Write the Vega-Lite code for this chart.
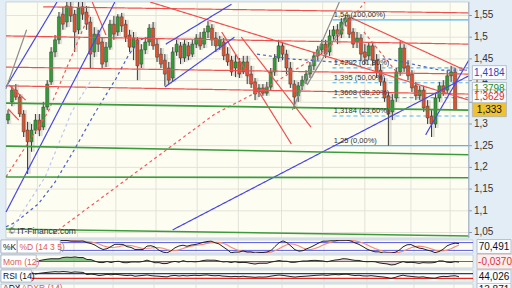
{
"$schema": "https://vega.github.io/schema/vega-lite/v6.json",
"padding": 0,
"background": "#e3edf6",
"spacing": 2,
"bounds": "flush",
"config": {"view": {"stroke": null, "fill": "#e3edf6"}, "font": "Liberation Sans"},
"datasets": {
"candles": [
{"t":0.5,"o":1.309,"h":1.332,"l":1.300,"c":1.323},
{"t":1.5,"o":1.351,"h":1.388,"l":1.341,"c":1.378},
{"t":2.5,"o":1.378,"h":1.392,"l":1.355,"c":1.362},
{"t":3.5,"o":1.362,"h":1.369,"l":1.316,"c":1.323},
{"t":4.5,"o":1.323,"h":1.332,"l":1.270,"c":1.282},
{"t":5.5,"o":1.286,"h":1.305,"l":1.185,"c":1.259},
{"t":6.5,"o":1.259,"h":1.300,"l":1.236,"c":1.286},
{"t":7.5,"o":1.286,"h":1.323,"l":1.277,"c":1.309},
{"t":8.5,"o":1.309,"h":1.323,"l":1.272,"c":1.286,"r":66},
{"t":9.5,"o":1.293,"h":1.351,"l":1.286,"c":1.339,"m":0.05,"r":72},
{"t":10.5,"o":1.339,"h":1.401,"l":1.332,"c":1.392,"m":0.1,"r":76,"a":30},
{"t":11.5,"o":1.397,"h":1.477,"l":1.390,"c":1.466,"m":0.14,"r":80},
{"t":12.5,"o":1.466,"h":1.505,"l":1.454,"c":1.494,"m":0.17,"r":83,"a":35},
{"t":13.5,"o":1.494,"h":1.558,"l":1.484,"c":1.547,"m":0.168,"r":86},
{"t":14.5,"o":1.553,"h":1.570,"l":1.517,"c":1.530,"k":95,"d":94,"m":0.168,"r":84,"a":40},
{"t":15.5,"o":1.535,"h":1.581,"l":1.523,"c":1.572,"k":97,"d":95,"m":0.249,"r":87},
{"t":16.5,"o":1.570,"h":1.581,"l":1.535,"c":1.549,"k":96,"d":95,"m":0.267,"r":85,"a":43,"ar":32},
{"t":17.5,"o":1.553,"h":1.563,"l":1.466,"c":1.512,"k":91,"d":94,"m":0.253,"r":80},
{"t":18.5,"o":1.517,"h":1.581,"l":1.507,"c":1.567,"k":91,"d":93,"m":0.281,"r":84,"a":45,"ar":36},
{"t":19.5,"o":1.570,"h":1.581,"l":1.540,"c":1.553,"k":91,"d":92,"m":0.244,"r":82},
{"t":20.5,"o":1.558,"h":1.572,"l":1.517,"c":1.530,"k":92,"d":92,"m":0.244,"r":80,"a":43,"ar":39},
{"t":21.5,"o":1.535,"h":1.547,"l":1.427,"c":1.461,"k":80,"d":89,"m":0.122,"r":62},
{"t":22.5,"o":1.466,"h":1.523,"l":1.454,"c":1.507,"k":73,"d":85,"m":0.115,"r":66,"a":39,"ar":41},
{"t":23.5,"o":1.507,"h":1.517,"l":1.466,"c":1.484,"k":61,"d":79,"m":0.018,"r":62},
{"t":24.5,"o":1.489,"h":1.500,"l":1.429,"c":1.438,"k":41,"d":69,"m":-0.055,"r":54,"a":35,"ar":40},
{"t":25.5,"o":1.443,"h":1.489,"l":1.431,"c":1.477,"k":27,"d":56,"m":-0.069,"r":58},
{"t":26.5,"o":1.477,"h":1.540,"l":1.471,"c":1.530,"k":33,"d":47,"m":0,"r":64,"a":31,"ar":37},
{"t":27.5,"o":1.530,"h":1.549,"l":1.494,"c":1.507,"k":50,"d":42,"m":-0.065,"r":60},
{"t":28.5,"o":1.512,"h":1.553,"l":1.503,"c":1.547,"k":67,"d":44,"m":-0.002,"r":64,"a":28,"ar":33},
{"t":29.5,"o":1.547,"h":1.556,"l":1.512,"c":1.526,"k":67,"d":49,"m":0.014,"r":61},
{"t":30.5,"o":1.530,"h":1.540,"l":1.489,"c":1.500,"k":66,"d":57,"m":-0.067,"r":57,"a":26,"ar":29},
{"t":31.5,"o":1.505,"h":1.517,"l":1.466,"c":1.477,"k":49,"d":60,"m":-0.076,"r":54},
{"t":32.5,"o":1.477,"h":1.512,"l":1.447,"c":1.498,"k":43,"d":58,"m":-0.032,"r":57,"a":25,"ar":27},
{"t":33.5,"o":1.494,"h":1.500,"l":1.401,"c":1.434,"k":27,"d":50,"m":-0.028,"r":48},
{"t":34.5,"o":1.438,"h":1.484,"l":1.429,"c":1.471,"k":28,"d":43,"m":-0.037,"r":52,"a":24,"ar":25},
{"t":35.5,"o":1.471,"h":1.500,"l":1.461,"c":1.489,"k":27,"d":35,"m":0.005,"r":55},
{"t":36.5,"o":1.489,"h":1.530,"l":1.480,"c":1.521,"k":53,"d":36,"m":0.083,"r":59,"a":24,"ar":24},
{"t":37.5,"o":1.521,"h":1.535,"l":1.471,"c":1.480,"k":56,"d":38,"m":0.002,"r":53},
{"t":38.5,"o":1.484,"h":1.498,"l":1.443,"c":1.454,"k":46,"d":42,"m":-0.076,"r":50,"a":23,"ar":24},
{"t":39.5,"o":1.461,"h":1.475,"l":1.429,"c":1.438,"k":21,"d":41,"m":-0.069,"r":48},
{"t":40.5,"o":1.447,"h":1.461,"l":1.388,"c":1.415,"k":7,"d":37,"m":-0.131,"r":45,"a":25,"ar":24},
{"t":41.5,"o":1.429,"h":1.443,"l":1.392,"c":1.401,"k":1,"d":26,"m":-0.124,"r":43},
{"t":42.5,"o":1.406,"h":1.477,"l":1.397,"c":1.466,"k":17,"d":18,"m":-0.035,"r":52,"a":26,"ar":24},
{"t":43.5,"o":1.466,"h":1.494,"l":1.457,"c":1.484,"k":40,"d":17,"m":0.007,"r":55},
{"t":44.5,"o":1.480,"h":1.489,"l":1.438,"c":1.452,"k":54,"d":24,"m":-0.046,"r":50,"a":24,"ar":24},
{"t":45.5,"o":1.452,"h":1.494,"l":1.443,"c":1.484,"k":60,"d":34,"m":0.051,"r":54},
{"t":46.5,"o":1.480,"h":1.489,"l":1.447,"c":1.457,"k":52,"d":45,"m":-0.014,"r":51,"a":22,"ar":24},
{"t":47.5,"o":1.461,"h":1.494,"l":1.454,"c":1.484,"k":61,"d":53,"m":-0.005,"r":54},
{"t":48.5,"o":1.484,"h":1.507,"l":1.475,"c":1.498,"k":65,"d":58,"m":-0.023,"r":56,"a":21,"ar":23},
{"t":49.5,"o":1.498,"h":1.512,"l":1.471,"c":1.480,"k":72,"d":62,"m":0,"r":53},
{"t":50.5,"o":1.484,"h":1.521,"l":1.475,"c":1.512,"k":82,"d":66,"m":0.058,"r":57,"a":22,"ar":22},
{"t":51.5,"o":1.512,"h":1.537,"l":1.498,"c":1.526,"k":88,"d":74,"m":0.088,"r":59},
{"t":52.5,"o":1.521,"h":1.530,"l":1.480,"c":1.494,"k":91,"d":80,"m":0.078,"r":54,"a":23,"ar":22},
{"t":53.5,"o":1.498,"h":1.512,"l":1.466,"c":1.480,"k":79,"d":82,"m":0.078,"r":52},
{"t":54.5,"o":1.480,"h":1.503,"l":1.471,"c":1.494,"k":70,"d":82,"m":0.028,"r":54,"a":22,"ar":22},
{"t":55.5,"o":1.489,"h":1.498,"l":1.447,"c":1.457,"k":48,"d":75,"m":-0.028,"r":49},
{"t":56.5,"o":1.461,"h":1.477,"l":1.434,"c":1.443,"k":27,"d":63,"m":-0.009,"r":47,"a":24,"ar":22},
{"t":57.5,"o":1.447,"h":1.457,"l":1.411,"c":1.420,"k":2,"d":45,"m":-0.065,"r":44},
{"t":58.5,"o":1.429,"h":1.461,"l":1.408,"c":1.443,"k":7,"d":31,"m":-0.014,"r":47,"a":28,"ar":23},
{"t":59.5,"o":1.443,"h":1.452,"l":1.406,"c":1.415,"k":7,"d":18,"m":-0.069,"r":44},
{"t":60.5,"o":1.420,"h":1.457,"l":1.415,"c":1.443,"k":16,"d":12,"m":-0.055,"r":48,"a":33,"ar":25},
{"t":61.5,"o":1.443,"h":1.457,"l":1.392,"c":1.411,"k":8,"d":8,"m":-0.069,"r":44},
{"t":62.5,"o":1.415,"h":1.434,"l":1.383,"c":1.392,"k":8,"d":9,"m":-0.12,"r":42,"a":38,"ar":28},
{"t":63.5,"o":1.397,"h":1.406,"l":1.355,"c":1.369,"k":0,"d":8,"m":-0.157,"r":39},
{"t":64.5,"o":1.374,"h":1.392,"l":1.362,"c":1.383,"k":3,"d":7,"m":-0.111,"r":42,"a":42,"ar":32},
{"t":65.5,"o":1.383,"h":1.392,"l":1.365,"c":1.371,"k":4,"d":5,"m":-0.108,"r":41},
{"t":66.5,"o":1.371,"h":1.397,"l":1.365,"c":1.385,"k":8,"d":5,"m":-0.108,"r":43,"a":44,"ar":36},
{"t":67.5,"o":1.385,"h":1.429,"l":1.378,"c":1.420,"k":19,"d":7,"m":-0.037,"r":49},
{"t":68.5,"o":1.420,"h":1.461,"l":1.411,"c":1.452,"k":50,"d":17,"m":0.009,"r":54,"a":43,"ar":39},
{"t":69.5,"o":1.452,"h":1.494,"l":1.443,"c":1.480,"k":79,"d":32,"m":0.06,"r":58},
{"t":70.5,"o":1.480,"h":1.489,"l":1.447,"c":1.461,"k":93,"d":50,"m":0.018,"r":55,"a":39,"ar":41},
{"t":71.5,"o":1.461,"h":1.471,"l":1.415,"c":1.429,"k":79,"d":64,"m":0.014,"r":50},
{"t":72.5,"o":1.429,"h":1.443,"l":1.383,"c":1.392,"k":53,"d":71,"m":-0.051,"r":45,"a":34,"ar":40},
{"t":73.5,"o":1.392,"h":1.401,"l":1.335,"c":1.362,"k":25,"d":66,"m":-0.048,"r":41},
{"t":74.5,"o":1.365,"h":1.397,"l":1.351,"c":1.388,"k":14,"d":53,"m":-0.005,"r":45,"a":30,"ar":37},
{"t":75.5,"o":1.388,"h":1.411,"l":1.378,"c":1.401,"k":18,"d":38,"m":0.032,"r":47},
{"t":76.5,"o":1.401,"h":1.424,"l":1.392,"c":1.415,"k":33,"d":29,"m":0.032,"r":49,"a":27,"ar":33},
{"t":77.5,"o":1.415,"h":1.443,"l":1.406,"c":1.434,"k":46,"d":27,"m":0.062,"r":52},
{"t":78.5,"o":1.434,"h":1.466,"l":1.424,"c":1.457,"k":62,"d":35,"m":0.071,"r":55,"a":25,"ar":29},
{"t":79.5,"o":1.457,"h":1.480,"l":1.447,"c":1.471,"k":78,"d":47,"m":0.051,"r":57},
{"t":80.5,"o":1.471,"h":1.494,"l":1.461,"c":1.484,"k":91,"d":62,"m":0.032,"r":59,"a":24,"ar":27},
{"t":81.5,"o":1.484,"h":1.494,"l":1.452,"c":1.461,"k":91,"d":74,"m":-0.018,"r":55},
{"t":82.5,"o":1.466,"h":1.517,"l":1.457,"c":1.503,"k":94,"d":83,"m":0.041,"r":60,"a":24,"ar":25},
{"t":83.5,"o":1.503,"h":1.526,"l":1.494,"c":1.517,"k":94,"d":90,"m":0.088,"r":62},
{"t":84.5,"o":1.517,"h":1.530,"l":1.484,"c":1.507,"k":98,"d":94,"m":0.115,"r":60,"a":25,"ar":24},
{"t":85.5,"o":1.507,"h":1.544,"l":1.498,"c":1.535,"k":98,"d":95,"m":0.173,"r":64},
{"t":86.5,"o":1.535,"h":1.551,"l":1.526,"c":1.544,"k":98,"d":96,"m":0.157,"r":65,"a":26,"ar":24},
{"t":87.5,"o":1.544,"h":1.551,"l":1.498,"c":1.507,"k":92,"d":96,"m":0.106,"r":58},
{"t":88.5,"o":1.512,"h":1.521,"l":1.475,"c":1.484,"k":78,"d":93,"m":0.069,"r":54,"a":26,"ar":25},
{"t":89.5,"o":1.489,"h":1.512,"l":1.475,"c":1.498,"k":66,"d":86,"m":0.065,"r":56},
{"t":90.5,"o":1.498,"h":1.507,"l":1.447,"c":1.461,"k":49,"d":77,"m":0.005,"r":51,"a":25,"ar":25},
{"t":91.5,"o":1.466,"h":1.484,"l":1.438,"c":1.454,"k":30,"d":63,"m":-0.016,"r":50},
{"t":92.5,"o":1.457,"h":1.489,"l":1.447,"c":1.480,"k":18,"d":48,"m":-0.005,"r":53,"a":27,"ar":25},
{"t":93.5,"o":1.480,"h":1.489,"l":1.434,"c":1.447,"k":9,"d":34,"m":-0.014,"r":49},
{"t":94.5,"o":1.447,"h":1.461,"l":1.406,"c":1.420,"k":9,"d":23,"m":-0.083,"r":45,"a":32,"ar":26},
{"t":95.5,"o":1.424,"h":1.438,"l":1.388,"c":1.397,"k":0,"d":13,"m":-0.12,"r":42},
{"t":96.5,"o":1.397,"h":1.406,"l":1.351,"c":1.360,"k":0,"d":7,"m":-0.147,"r":37,"a":38,"ar":28},
{"t":97.5,"o":1.365,"h":1.374,"l":1.250,"c":1.323,"k":0,"d":4,"m":-0.212,"r":30},
{"t":98.5,"o":1.328,"h":1.369,"l":1.309,"c":1.355,"k":5,"d":3,"m":-0.189,"r":38,"a":43,"ar":33},
{"t":99.5,"o":1.360,"h":1.429,"l":1.351,"c":1.420,"k":20,"d":5,"m":-0.088,"r":49},
{"t":100.5,"o":1.420,"h":1.491,"l":1.411,"c":1.475,"k":47,"d":14,"m":-0.009,"r":57,"a":42,"ar":37},
{"t":101.5,"o":1.475,"h":1.484,"l":1.420,"c":1.429,"k":63,"d":27,"m":-0.069,"r":50},
{"t":102.5,"o":1.434,"h":1.447,"l":1.401,"c":1.411,"k":65,"d":40,"m":-0.051,"r":47,"a":37,"ar":40},
{"t":103.5,"o":1.415,"h":1.424,"l":1.374,"c":1.383,"k":50,"d":49,"m":-0.071,"r":43},
{"t":104.5,"o":1.388,"h":1.397,"l":1.355,"c":1.365,"k":38,"d":53,"m":-0.115,"r":40,"a":32,"ar":41},
{"t":105.5,"o":1.365,"h":1.388,"l":1.355,"c":1.378,"k":33,"d":50,"m":-0.069,"r":43},
{"t":106.5,"o":1.378,"h":1.388,"l":1.328,"c":1.337,"k":23,"d":42,"m":-0.083,"r":37,"a":28,"ar":38},
{"t":107.5,"o":1.341,"h":1.355,"l":1.300,"c":1.314,"k":15,"d":32,"m":-0.083,"r":33},
{"t":108.5,"o":1.318,"h":1.332,"l":1.270,"c":1.300,"k":3,"d":22,"m":-0.06,"r":31,"a":26,"ar":34},
{"t":109.5,"o":1.300,"h":1.369,"l":1.291,"c":1.360,"k":11,"d":17,"m":0.037,"r":42},
{"t":110.5,"o":1.360,"h":1.397,"l":1.351,"c":1.388,"k":28,"d":16,"m":0.032,"r":47,"a":24,"ar":30},
{"t":111.5,"o":1.388,"h":1.401,"l":1.365,"c":1.374,"k":55,"d":22,"m":-0.046,"r":45},
{"t":112.5,"o":1.378,"h":1.424,"l":1.369,"c":1.411,"k":68,"d":33,"m":-0.065,"r":50,"a":22,"ar":27},
{"t":113.5,"o":1.411,"h":1.434,"l":1.397,"c":1.420,"k":76,"d":48,"m":-0.009,"r":52},
{"t":114.5,"o":1.420,"h":1.429,"l":1.332,"c":1.333,"k":72,"d":62,"m":-0.037,"r":44,"a":21,"ar":25}
],
"gx": [{"t":8},{"t":18.25},{"t":28},{"t":38.25},{"t":48.75},{"t":59.25},{"t":70.25},{"t":80.75},{"t":91.5},{"t":103.25},{"t":113.25}],
"gy": [{"v":1.05,"lab":"1,05"},{"v":1.1,"lab":"1,1"},{"v":1.15,"lab":"1,15"},{"v":1.2,"lab":"1,2"},{"v":1.25,"lab":"1,25"},{"v":1.3,"lab":"1,3"},{"v":1.35,"lab":"1,35"},{"v":1.4,"lab":"1,4"},{"v":1.45,"lab":"1,45"},{"v":1.5,"lab":"1,5"},{"v":1.55,"lab":"1,55"}],
"lines": [
{"id":"r1","s":"red","t":9.5,"p":1.570},{"id":"r1","s":"red","t":118,"p":1.556},
{"id":"r2","s":"red","t":0,"p":1.503},{"id":"r2","s":"red","t":118,"p":1.484},
{"id":"r3","s":"red","t":0,"p":1.431},{"id":"r3","s":"red","t":118,"p":1.415},
{"id":"r4","s":"red","t":0,"p":1.388},{"id":"r4","s":"red","t":118,"p":1.369},
{"id":"r5","s":"red","t":36.75,"p":1.581},{"id":"r5","s":"red","t":118,"p":1.355},
{"id":"r6","s":"red","t":87.5,"p":1.547},{"id":"r6","s":"red","t":117,"p":1.424},
{"id":"r7","s":"red","t":22,"p":1.581},{"id":"r7","s":"red","t":25.5,"p":1.505},
{"id":"r8","s":"red","t":0.75,"p":1.390},{"id":"r8","s":"red","t":5,"p":1.355},
{"id":"r9","s":"red","t":0.5,"p":1.335},{"id":"r9","s":"red","t":3.25,"p":1.309},
{"id":"r10","s":"red","t":55,"p":1.512},{"id":"r10","s":"red","t":72.75,"p":1.254},
{"id":"r11","s":"red","t":60,"p":1.500},{"id":"r11","s":"red","t":77.75,"p":1.293},
{"id":"g1","s":"green","t":0,"p":1.348},{"id":"g1","s":"green","t":118,"p":1.332},
{"id":"g2","s":"green","t":0,"p":1.249},{"id":"g2","s":"green","t":118,"p":1.229},
{"id":"g3","s":"green","t":0,"p":1.178},{"id":"g3","s":"green","t":118,"p":1.176},
{"id":"g4","s":"green","t":0,"p":1.058},{"id":"g4","s":"green","t":118,"p":1.042},
{"id":"b1","s":"blue","t":0,"p":1.097},{"id":"b1","s":"blue","t":27.75,"p":1.581},
{"id":"b2","s":"blue","t":0,"p":1.385},{"id":"b2","s":"blue","t":13,"p":1.581},
{"id":"b3","s":"blue","t":40.75,"p":1.484},{"id":"b3","s":"blue","t":57.5,"p":1.576},
{"id":"b4","s":"blue","t":40.5,"p":1.385},{"id":"b4","s":"blue","t":58.25,"p":1.500},
{"id":"b5","s":"blue","t":42.5,"p":1.056},{"id":"b5","s":"blue","t":118,"p":1.411},
{"id":"b6","s":"blue","t":107,"p":1.275},{"id":"b6","s":"blue","t":118,"p":1.447},
{"id":"k1","s":"gray","t":0,"p":1.381},{"id":"k1","s":"gray","t":5.25,"p":1.517},
{"id":"k2","s":"gray","t":73,"p":1.332},{"id":"k2","s":"gray","t":85,"p":1.581},
{"id":"k3","s":"gray","t":76.75,"p":1.390},{"id":"k3","s":"gray","t":87.5,"p":1.553},
{"id":"d1","s":"rdash","t":0,"p":1.178},{"id":"d1","s":"rdash","t":10.75,"p":1.328},{"id":"d1","s":"rdash","t":21.25,"p":1.553},
{"id":"d2","s":"rdash","t":12,"p":1.047},{"id":"d2","s":"rdash","t":53.25,"p":1.323},{"id":"d2","s":"rdash","t":67.5,"p":1.390},{"id":"d2","s":"rdash","t":78.25,"p":1.450},{"id":"d2","s":"rdash","t":83.25,"p":1.484},{"id":"d2","s":"rdash","t":91.5,"p":1.581},
{"id":"d3","s":"rdash","t":91.25,"p":1.512},{"id":"d3","s":"rdash","t":100,"p":1.415},
{"id":"e1","s":"bdash","t":0,"p":1.063},{"id":"e1","s":"bdash","t":2.5,"p":1.074},{"id":"e1","s":"bdash","t":8.25,"p":1.116},{"id":"e1","s":"bdash","t":12.5,"p":1.166},{"id":"e1","s":"bdash","t":17.5,"p":1.242},{"id":"e1","s":"bdash","t":22.5,"p":1.323},{"id":"e1","s":"bdash","t":28,"p":1.404},{"id":"e1","s":"bdash","t":31.25,"p":1.459},{"id":"e1","s":"bdash","t":34.25,"p":1.494},{"id":"e1","s":"bdash","t":37.5,"p":1.503},
{"id":"e2","s":"bdash","t":64,"p":1.461},{"id":"e2","s":"bdash","t":72.5,"p":1.450},{"id":"e2","s":"bdash","t":83.25,"p":1.443},{"id":"e2","s":"bdash","t":97.5,"p":1.450},{"id":"e2","s":"bdash","t":110.75,"p":1.424},{"id":"e2","s":"bdash","t":117.5,"p":1.424},
{"id":"f1","s":"ldash","t":1.75,"p":1.063},{"id":"f1","s":"ldash","t":10,"p":1.178},{"id":"f1","s":"ldash","t":16.75,"p":1.328},{"id":"f1","s":"ldash","t":21.75,"p":1.401}
],
"fib": [
{"p":1.54,"lab":"1,54 (100,00%)","solid":true},
{"p":1.4292,"lab":"1,4292 (61,80%)","solid":false},
{"p":1.395,"lab":"1,395 (50,00%)","solid":false},
{"p":1.3608,"lab":"1,3608 (38,20%)","solid":false},
{"p":1.3184,"lab":"1,3184 (23,60%)","solid":false},
{"p":1.25,"lab":"1,25 (0,00%)","solid":true}
],
"tags": [
{"p":1.4184,"lab":"1,4184","k":"blue"},
{"p":1.3798,"lab":"1,3798","k":"green"},
{"p":1.3629,"lab":"1,3629","k":"red"},
{"p":1.333,"lab":"1,333","k":"gold"}
]
},
"vconcat": [
{
"width": 512, "height": 236,
"layer": [
{"data": {"values": [{}]}, "mark": {"type": "rect", "fill": "#fdfdf2", "stroke": "#b4c0cc", "strokeWidth": 0.6},
 "encoding": {
  "x": {"datum": 0, "type": "quantitative", "scale": {"domain": [0, 128], "nice": false, "zero": false}, "axis": null},
  "x2": {"datum": 118},
  "y": {"datum": 1.0373, "type": "quantitative", "scale": {"domain": [1.0373, 1.5811], "nice": false, "zero": false}, "axis": null},
  "y2": {"datum": 1.5811}}},
{"data": {"name": "gy"}, "mark": {"type": "rule", "stroke": "#e3e3d9", "strokeWidth": 1},
 "encoding": {"x": {"datum": 0, "type": "quantitative", "axis": null}, "x2": {"datum": 118}, "y": {"field": "v", "type": "quantitative", "axis": null}}},
{"data": {"name": "gy"}, "mark": {"type": "rule", "stroke": "#8898a8", "strokeWidth": 1},
 "encoding": {"x": {"datum": 118, "type": "quantitative", "axis": null}, "x2": {"datum": 118.8}, "y": {"field": "v", "type": "quantitative", "axis": null}}},
{"data": {"name": "gy"}, "mark": {"type": "text", "align": "left", "baseline": "middle", "fontSize": 10, "color": "#333333", "font": "Liberation Sans"},
 "encoding": {"x": {"datum": 119.3, "type": "quantitative", "axis": null}, "y": {"field": "v", "type": "quantitative", "axis": null}, "text": {"field": "lab"}}},
{"data": {"name": "gx"}, "mark": {"type": "rule", "stroke": "#e3e3d9", "strokeWidth": 1},
 "encoding": {"x": {"field": "t", "type": "quantitative", "axis": null}}},
{"data": {"name": "fib"}, "transform": [{"filter": "datum.solid"}], "mark": {"type": "rule", "stroke": "#55b5f2", "strokeWidth": 1.2},
 "encoding": {"x": {"datum": 83.25, "type": "quantitative", "axis": null}, "x2": {"datum": 118}, "y": {"field": "p", "type": "quantitative", "axis": null}}},
{"data": {"name": "fib"}, "transform": [{"filter": "!datum.solid"}], "mark": {"type": "rule", "stroke": "#55b5f2", "strokeWidth": 1.2, "strokeDash": [4, 3]},
 "encoding": {"x": {"datum": 83.25, "type": "quantitative", "axis": null}, "x2": {"datum": 118}, "y": {"field": "p", "type": "quantitative", "axis": null}}},
{"data": {"name": "candles"}, "mark": {"type": "rule", "stroke": "#bdbdb5", "strokeWidth": 3.5, "opacity": 0.45, "xOffset": 1.5},
 "encoding": {"x": {"field": "t", "type": "quantitative", "axis": null}, "y": {"field": "l", "type": "quantitative", "axis": null}, "y2": {"field": "h"}}},
{"data": {"name": "candles"}, "mark": {"type": "rule", "stroke": "#3a3a3a", "strokeWidth": 1},
 "encoding": {"x": {"field": "t", "type": "quantitative", "axis": null}, "y": {"field": "l", "type": "quantitative", "axis": null}, "y2": {"field": "h"}}},
{"data": {"name": "candles"}, "mark": {"type": "bar", "width": 3, "stroke": "#3c3c3c", "strokeWidth": 0.5},
 "encoding": {"x": {"field": "t", "type": "quantitative", "axis": null}, "y": {"field": "o", "type": "quantitative", "axis": null}, "y2": {"field": "c"},
  "color": {"condition": {"test": "datum.c >= datum.o", "value": "#2f9e33"}, "value": "#e0522c"}}},
{"data": {"name": "lines"}, "transform": [{"filter": "datum.s !== 'green'"}], "mark": {"type": "line", "clip": true, "strokeWidth": 1.2},
 "encoding": {"x": {"field": "t", "type": "quantitative", "axis": null}, "y": {"field": "p", "type": "quantitative", "axis": null}, "detail": {"field": "id"},
  "color": {"field": "s", "type": "nominal", "scale": {"domain": ["red","blue","gray","rdash","bdash","ldash"], "range": ["#ee5050","#4848e8","#8c8c8c","#f05a5a","#4a62c8","#bfc6f0"]}, "legend": null},
  "strokeDash": {"field": "s", "type": "nominal", "scale": {"domain": ["red","blue","gray","rdash","bdash","ldash"], "range": [[1,0],[1,0],[1,0],[3,3],[3,3],[3,3]]}, "legend": null}}},
{"data": {"name": "lines"}, "transform": [{"filter": "datum.s === 'green'"}], "mark": {"type": "line", "clip": true, "strokeWidth": 1.6, "color": "#3c9c3c"},
 "encoding": {"x": {"field": "t", "type": "quantitative", "axis": null}, "y": {"field": "p", "type": "quantitative", "axis": null}, "detail": {"field": "id"}}},
{"data": {"name": "fib"}, "mark": {"type": "text", "align": "left", "baseline": "bottom", "dy": -1, "fontSize": 7.5, "color": "#333333", "font": "Liberation Sans"},
 "encoding": {"x": {"datum": 83.6, "type": "quantitative", "axis": null}, "y": {"field": "p", "type": "quantitative", "axis": null}, "text": {"field": "lab"}}},
{"data": {"values": [{}]}, "mark": {"type": "rule", "stroke": "#9fb0c2", "strokeWidth": 1},
 "encoding": {"x": {"datum": 118, "type": "quantitative", "axis": null}}},
{"data": {"name": "tags"}, "mark": {"type": "point", "shape": "M-1,-0.41L1,-0.41L1,0.41L-1,0.41Z", "filled": true, "size": 1156, "stroke": "#a8b4c0", "strokeWidth": 0.8, "opacity": 1},
 "encoding": {"x": {"datum": 123.25, "type": "quantitative", "axis": null}, "y": {"field": "p", "type": "quantitative", "axis": null},
  "fill": {"condition": {"test": "datum.k === 'gold'", "value": "#f2c12e"}, "value": "#fafcff"}}},
{"data": {"name": "tags"}, "mark": {"type": "text", "fontSize": 10, "font": "Liberation Sans", "baseline": "middle", "align": "center"},
 "encoding": {"x": {"datum": 123.25, "type": "quantitative", "axis": null}, "y": {"field": "p", "type": "quantitative", "axis": null}, "text": {"field": "lab"},
  "color": {"condition": [{"test": "datum.k === 'blue'", "value": "#3347b8"}, {"test": "datum.k === 'green'", "value": "#238a23"}, {"test": "datum.k === 'red'", "value": "#e02828"}], "value": "#111111"}}},
{"data": {"values": [{"txt": "© IT-Finance.com"}]}, "mark": {"type": "text", "align": "left", "baseline": "middle", "fontSize": 8.5, "color": "#333333", "font": "Liberation Sans"},
 "encoding": {"x": {"datum": 0.7, "type": "quantitative", "axis": null}, "y": {"datum": 1.0535, "type": "quantitative", "axis": null}, "text": {"field": "txt"}}}
]
},
{
"width": 512, "height": 13,
"layer": [
{"data": {"values": [{}]}, "mark": {"type": "rect", "fill": "#fdfdf2", "stroke": "#b4c0cc", "strokeWidth": 0.6},
 "encoding": {"x": {"datum": 0, "type": "quantitative", "scale": {"domain": [0, 128], "nice": false, "zero": false}, "axis": null}, "x2": {"datum": 118},
  "y": {"datum": 0, "type": "quantitative", "scale": {"domain": [0, 100], "nice": false, "zero": false}, "axis": null}, "y2": {"datum": 100}}},
{"data": {"name": "gx"}, "mark": {"type": "rule", "stroke": "#e3e3d9"}, "encoding": {"x": {"field": "t", "type": "quantitative", "axis": null}}},
{"data": {"values": [{"v": 20}, {"v": 80}]}, "mark": {"type": "rule", "stroke": "#5a5ae6", "strokeWidth": 1},
 "encoding": {"x": {"datum": 0, "type": "quantitative", "axis": null}, "x2": {"datum": 118}, "y": {"field": "v", "type": "quantitative", "axis": null}}},
{"data": {"name": "candles"}, "mark": {"type": "line", "stroke": "#f08a80", "strokeWidth": 1.1, "clip": true},
 "encoding": {"x": {"field": "t", "type": "quantitative", "axis": null}, "y": {"field": "d", "type": "quantitative", "axis": null}}},
{"data": {"name": "candles"}, "mark": {"type": "line", "stroke": "#222222", "strokeWidth": 1, "clip": true},
 "encoding": {"x": {"field": "t", "type": "quantitative", "axis": null}, "y": {"field": "k", "type": "quantitative", "axis": null}}},
{"data": {"values": [{}]}, "mark": {"type": "rect", "fill": "#ffffff", "stroke": "#a0aab4", "strokeWidth": 0.7},
 "encoding": {"x": {"datum": 0, "type": "quantitative", "axis": null}, "x2": {"datum": 4}, "y": {"datum": 0, "type": "quantitative", "axis": null}, "y2": {"datum": 100}}},
{"data": {"values": [{}]}, "mark": {"type": "rect", "fill": "#ffffff", "stroke": "#a0aab4", "strokeWidth": 0.7},
 "encoding": {"x": {"datum": 4.1, "type": "quantitative", "axis": null}, "x2": {"datum": 14.8}, "y": {"datum": 0, "type": "quantitative", "axis": null}, "y2": {"datum": 100}}},
{"data": {"values": [{"txt": "%K"}]}, "mark": {"type": "text", "align": "left", "baseline": "middle", "fontSize": 8.5, "color": "#111111", "font": "Liberation Sans"},
 "encoding": {"x": {"datum": 0.5, "type": "quantitative", "axis": null}, "y": {"datum": 50, "type": "quantitative", "axis": null}, "text": {"field": "txt"}}},
{"data": {"values": [{"txt": "%D (14 3 5)"}]}, "mark": {"type": "text", "align": "left", "baseline": "middle", "fontSize": 8.5, "color": "#e05a50", "font": "Liberation Sans"},
 "encoding": {"x": {"datum": 4.6, "type": "quantitative", "axis": null}, "y": {"datum": 50, "type": "quantitative", "axis": null}, "text": {"field": "txt"}}},
{"data": {"values": [{"txt": "70,491"}]}, "mark": {"type": "point", "shape": "M-1,-0.41L1,-0.41L1,0.41L-1,0.41Z", "filled": true, "size": 1156, "fill": "#fafcff", "stroke": "#a8b4c0", "strokeWidth": 0.8, "opacity": 1},
 "encoding": {"x": {"datum": 123.25, "type": "quantitative", "axis": null}, "y": {"datum": 50, "type": "quantitative", "axis": null}}},
{"data": {"values": [{"txt": "70,491"}]}, "mark": {"type": "text", "fontSize": 10, "color": "#111111", "font": "Liberation Sans", "baseline": "middle"},
 "encoding": {"x": {"datum": 123.25, "type": "quantitative", "axis": null}, "y": {"datum": 50, "type": "quantitative", "axis": null}, "text": {"field": "txt"}}}
]
},
{
"width": 512, "height": 13,
"layer": [
{"data": {"values": [{}]}, "mark": {"type": "rect", "fill": "#fdfdf2", "stroke": "#b4c0cc", "strokeWidth": 0.6},
 "encoding": {"x": {"datum": 0, "type": "quantitative", "scale": {"domain": [0, 128], "nice": false, "zero": false}, "axis": null}, "x2": {"datum": 118},
  "y": {"datum": -0.4, "type": "quantitative", "scale": {"domain": [-0.4, 0.4], "nice": false, "zero": false}, "axis": null}, "y2": {"datum": 0.4}}},
{"data": {"name": "gx"}, "mark": {"type": "rule", "stroke": "#e3e3d9"}, "encoding": {"x": {"field": "t", "type": "quantitative", "axis": null}}},
{"data": {"name": "candles"}, "transform": [{"filter": "isValid(datum.m) && datum.t < 24"}], "mark": {"type": "area", "color": "#62b062", "opacity": 0.75, "clip": true},
 "encoding": {"x": {"field": "t", "type": "quantitative", "axis": null}, "y": {"field": "m", "type": "quantitative", "axis": null}, "y2": {"datum": 0}}},
{"data": {"name": "candles"}, "transform": [{"filter": "isValid(datum.m) && datum.t > 23"}], "mark": {"type": "area", "color": "#d4b4c4", "opacity": 0.7, "clip": true},
 "encoding": {"x": {"field": "t", "type": "quantitative", "axis": null}, "y": {"field": "m", "type": "quantitative", "axis": null}, "y2": {"datum": 0}}},
{"data": {"values": [{}]}, "mark": {"type": "rule", "stroke": "#5a5ae6", "strokeWidth": 1},
 "encoding": {"x": {"datum": 0, "type": "quantitative", "axis": null}, "x2": {"datum": 118}, "y": {"datum": 0, "type": "quantitative", "axis": null}}},
{"data": {"name": "candles"}, "mark": {"type": "line", "stroke": "#222222", "strokeWidth": 1, "clip": true},
 "encoding": {"x": {"field": "t", "type": "quantitative", "axis": null}, "y": {"field": "m", "type": "quantitative", "axis": null}}},
{"data": {"values": [{}]}, "mark": {"type": "rect", "fill": "#ffffff", "stroke": "#a0aab4", "strokeWidth": 0.7},
 "encoding": {"x": {"datum": 0, "type": "quantitative", "axis": null}, "x2": {"datum": 8.8}, "y": {"datum": -0.4, "type": "quantitative", "axis": null}, "y2": {"datum": 0.4}}},
{"data": {"values": [{"txt": "Mom (12)"}]}, "mark": {"type": "text", "align": "left", "baseline": "middle", "fontSize": 8.5, "color": "#e05a50", "font": "Liberation Sans"},
 "encoding": {"x": {"datum": 0.5, "type": "quantitative", "axis": null}, "y": {"datum": 0, "type": "quantitative", "axis": null}, "text": {"field": "txt"}}},
{"data": {"values": [{}]}, "mark": {"type": "point", "shape": "M-1,-0.41L1,-0.41L1,0.41L-1,0.41Z", "filled": true, "size": 1296, "fill": "#fbeeee", "stroke": "#c8b4b4", "strokeWidth": 0.8, "opacity": 1},
 "encoding": {"x": {"datum": 123.5, "type": "quantitative", "axis": null}, "y": {"datum": 0, "type": "quantitative", "axis": null}}},
{"data": {"values": [{"txt": "-0,0370"}]}, "mark": {"type": "text", "fontSize": 10, "color": "#e03030", "font": "Liberation Sans", "baseline": "middle"},
 "encoding": {"x": {"datum": 123.5, "type": "quantitative", "axis": null}, "y": {"datum": 0, "type": "quantitative", "axis": null}, "text": {"field": "txt"}}}
]
},
{
"width": 512, "height": 12,
"layer": [
{"data": {"values": [{}]}, "mark": {"type": "rect", "fill": "#fdfdf2", "stroke": "#b4c0cc", "strokeWidth": 0.6},
 "encoding": {"x": {"datum": 0, "type": "quantitative", "scale": {"domain": [0, 128], "nice": false, "zero": false}, "axis": null}, "x2": {"datum": 118},
  "y": {"datum": 0, "type": "quantitative", "scale": {"domain": [0, 100], "nice": false, "zero": false}, "axis": null}, "y2": {"datum": 100}}},
{"data": {"name": "gx"}, "mark": {"type": "rule", "stroke": "#e3e3d9"}, "encoding": {"x": {"field": "t", "type": "quantitative", "axis": null}}},
{"data": {"values": [{}]}, "mark": {"type": "rule", "stroke": "#2a34b0", "strokeWidth": 1.2},
 "encoding": {"x": {"datum": 0, "type": "quantitative", "axis": null}, "x2": {"datum": 118}, "y": {"datum": 70, "type": "quantitative", "axis": null}}},
{"data": {"values": [{}]}, "mark": {"type": "rule", "stroke": "#e82424", "strokeWidth": 1.2},
 "encoding": {"x": {"datum": 0, "type": "quantitative", "axis": null}, "x2": {"datum": 118}, "y": {"datum": 30, "type": "quantitative", "axis": null}}},
{"data": {"name": "candles"}, "mark": {"type": "line", "stroke": "#222222", "strokeWidth": 1, "clip": true},
 "encoding": {"x": {"field": "t", "type": "quantitative", "axis": null}, "y": {"field": "r", "type": "quantitative", "axis": null}}},
{"data": {"values": [{}]}, "mark": {"type": "rect", "fill": "#ffffff", "stroke": "#a0aab4", "strokeWidth": 0.7},
 "encoding": {"x": {"datum": 0, "type": "quantitative", "axis": null}, "x2": {"datum": 7.6}, "y": {"datum": 0, "type": "quantitative", "axis": null}, "y2": {"datum": 100}}},
{"data": {"values": [{"txt": "RSI (14)"}]}, "mark": {"type": "text", "align": "left", "baseline": "middle", "fontSize": 8.5, "color": "#111111", "font": "Liberation Sans"},
 "encoding": {"x": {"datum": 0.5, "type": "quantitative", "axis": null}, "y": {"datum": 50, "type": "quantitative", "axis": null}, "text": {"field": "txt"}}},
{"data": {"values": [{}]}, "mark": {"type": "point", "shape": "M-1,-0.41L1,-0.41L1,0.41L-1,0.41Z", "filled": true, "size": 1156, "fill": "#fafcff", "stroke": "#a8b4c0", "strokeWidth": 0.8, "opacity": 1},
 "encoding": {"x": {"datum": 123.25, "type": "quantitative", "axis": null}, "y": {"datum": 44, "type": "quantitative", "axis": null}}},
{"data": {"values": [{"txt": "44,026"}]}, "mark": {"type": "text", "fontSize": 10, "color": "#111111", "font": "Liberation Sans", "baseline": "middle"},
 "encoding": {"x": {"datum": 123.25, "type": "quantitative", "axis": null}, "y": {"datum": 44, "type": "quantitative", "axis": null}, "text": {"field": "txt"}}}
]
},
{
"width": 512, "height": 6,
"layer": [
{"data": {"values": [{}]}, "mark": {"type": "rect", "fill": "#fdfdf2", "stroke": "#b4c0cc", "strokeWidth": 0.6},
 "encoding": {"x": {"datum": 0, "type": "quantitative", "scale": {"domain": [0, 128], "nice": false, "zero": false}, "axis": null}, "x2": {"datum": 118},
  "y": {"datum": 30, "type": "quantitative", "scale": {"domain": [30, 45], "nice": false, "zero": false}, "axis": null}, "y2": {"datum": 45}}},
{"data": {"name": "gx"}, "mark": {"type": "rule", "stroke": "#e3e3d9"}, "encoding": {"x": {"field": "t", "type": "quantitative", "axis": null}}},
{"data": {"name": "candles"}, "mark": {"type": "line", "stroke": "#f08a80", "strokeWidth": 1.3, "clip": true},
 "encoding": {"x": {"field": "t", "type": "quantitative", "axis": null}, "y": {"field": "ar", "type": "quantitative", "axis": null}}},
{"data": {"name": "candles"}, "mark": {"type": "line", "stroke": "#222222", "strokeWidth": 1.2, "clip": true},
 "encoding": {"x": {"field": "t", "type": "quantitative", "axis": null}, "y": {"field": "a", "type": "quantitative", "axis": null}}},
{"data": {"values": [{}]}, "mark": {"type": "rect", "fill": "#ffffff", "stroke": "#a0aab4", "strokeWidth": 0.7, "clip": true},
 "encoding": {"x": {"datum": 0, "type": "quantitative", "axis": null}, "x2": {"datum": 4.4}, "y": {"datum": 30, "type": "quantitative", "axis": null}, "y2": {"datum": 45}}},
{"data": {"values": [{}]}, "mark": {"type": "rect", "fill": "#ffffff", "stroke": "#a0aab4", "strokeWidth": 0.7, "clip": true},
 "encoding": {"x": {"datum": 4.6, "type": "quantitative", "axis": null}, "x2": {"datum": 14.3}, "y": {"datum": 30, "type": "quantitative", "axis": null}, "y2": {"datum": 45}}},
{"data": {"values": [{"txt": "ADX"}]}, "mark": {"type": "text", "align": "left", "baseline": "top", "dy": 0, "fontSize": 8.5, "color": "#111111", "font": "Liberation Sans", "clip": true},
 "encoding": {"x": {"datum": 0.5, "type": "quantitative", "axis": null}, "y": {"datum": 45, "type": "quantitative", "axis": null}, "text": {"field": "txt"}}},
{"data": {"values": [{"txt": "ADXR (14)"}]}, "mark": {"type": "text", "align": "left", "baseline": "top", "fontSize": 8.5, "color": "#e05a50", "font": "Liberation Sans", "clip": true},
 "encoding": {"x": {"datum": 5.1, "type": "quantitative", "axis": null}, "y": {"datum": 45, "type": "quantitative", "axis": null}, "text": {"field": "txt"}}},
{"data": {"values": [{}]}, "mark": {"type": "point", "shape": "M-1,-0.41L1,-0.41L1,0.41L-1,0.41Z", "filled": true, "size": 1156, "fill": "#fafcff", "stroke": "#a8b4c0", "strokeWidth": 0.8, "opacity": 1, "clip": true},
 "encoding": {"x": {"datum": 123.25, "type": "quantitative", "axis": null}, "y": {"datum": 30, "type": "quantitative", "axis": null}}},
{"data": {"values": [{"txt": "13,871"}]}, "mark": {"type": "text", "fontSize": 10, "color": "#111111", "font": "Liberation Sans", "baseline": "middle", "clip": true},
 "encoding": {"x": {"datum": 123.25, "type": "quantitative", "axis": null}, "y": {"datum": 30, "type": "quantitative", "axis": null}, "text": {"field": "txt"}}}
]
}
]
}
